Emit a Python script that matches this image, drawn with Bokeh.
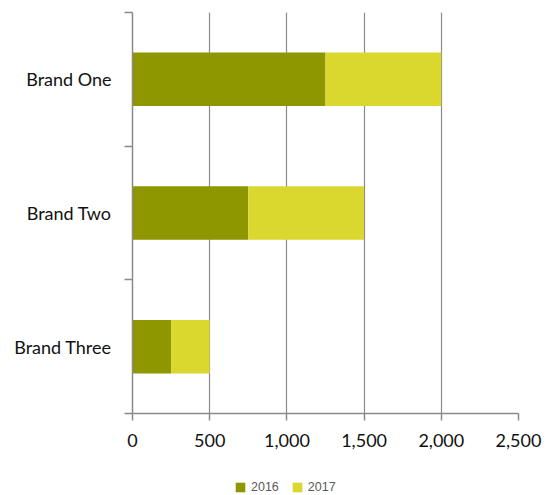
from bokeh.plotting import figure
from bokeh.layouts import column
from bokeh.models import FixedTicker, NumeralTickFormatter, Legend, LegendItem, ColumnDataSource, Range1d
from bokeh.embed import file_html
from bokeh.resources import INLINE

brands = ["Brand One", "Brand Two", "Brand Three"]
years = ["2016", "2017"]
v2016 = [1250, 750, 250]
v2017 = [750, 750, 250]
x_ticks = [0, 500, 1000, 1500, 2000, 2500]
colors = ["#8E9600", "#DAD82E"]

n = len(brands)
# bottom-to-top position: Brand One on top
ypos = [n - 1 - i + 0.5 for i in range(n)]

src = ColumnDataSource(dict(y=ypos, brand=brands, **{"2016": v2016, "2017": v2017}))

p = figure(width=553, height=455, output_backend="svg", toolbar_location=None,
           x_range=Range1d(0, 2500), y_range=Range1d(0, n),
           min_border_left=132, min_border_right=35, min_border_top=12, min_border_bottom=42)
p.outline_line_color = None
p.background_fill_color = "white"

r = p.hbar_stack(years, y="y", height=0.4, color=colors, source=src, line_color=None)

# x axis
xa = p.xaxis[0]
xa.ticker = FixedTicker(ticks=x_ticks)
xa.formatter = NumeralTickFormatter(format="0,0")
xa.axis_line_color = "#8a8a8a"
xa.axis_line_width = 1.5
xa.major_tick_line_color = "#8a8a8a"
xa.major_tick_line_width = 1.5
xa.major_tick_in = 0
xa.major_tick_out = 7
xa.minor_tick_line_color = None
xa.major_label_standoff = 13
xa.major_label_text_font = "Lato"
xa.major_label_text_font_size = "18px"
xa.major_label_text_color = "#111111"

# y axis
ya = p.yaxis[0]
ya.ticker = FixedTicker(ticks=ypos, minor_ticks=list(range(n + 1)))
ya.major_label_overrides = {y: b for y, b in zip(ypos, brands)}
ya.axis_line_color = "#8a8a8a"
ya.axis_line_width = 1.5
ya.major_tick_line_color = None
ya.major_tick_out = 0
ya.major_tick_in = 0
ya.minor_tick_line_color = "#8a8a8a"
ya.minor_tick_line_width = 1.5
ya.minor_tick_in = 0
ya.minor_tick_out = 8
ya.major_label_standoff = 13
ya.major_label_text_font = "Lato"
ya.major_label_text_font_size = "18px"
ya.major_label_text_color = "#111111"

p.xgrid.grid_line_color = "#8a8a8a"
p.xgrid.grid_line_width = 1.2
p.ygrid.grid_line_color = None

# legend strip underneath, as its own small figure
lg = figure(width=553, height=40, output_backend="svg", toolbar_location=None,
            x_range=Range1d(0, 2500), y_range=Range1d(0, n),
            min_border_left=132, min_border_right=35, min_border_top=0, min_border_bottom=0)
lg.axis.visible = False
lg.grid.visible = False
lg.outline_line_color = None
lr = lg.hbar_stack(years, y="y", height=0.4, color=colors, source=src, line_color=None)
for rr in lr:
    rr.visible = False

legend = Legend(items=[LegendItem(label=y, renderers=[rr]) for y, rr in zip(years, lr)],
                orientation="horizontal", location=(102, 1),
                padding=0, margin=0, spacing=12, glyph_width=12, glyph_height=12,
                label_standoff=5, label_height=12,
                label_text_font="Liberation Sans", label_text_font_size="12.5px",
                label_text_color="#595959", border_line_color=None,
                background_fill_alpha=0)
lg.add_layout(legend, "center")

layout = column(p, lg, spacing=0)
open("out.html", "w").write(file_html(layout, INLINE))
